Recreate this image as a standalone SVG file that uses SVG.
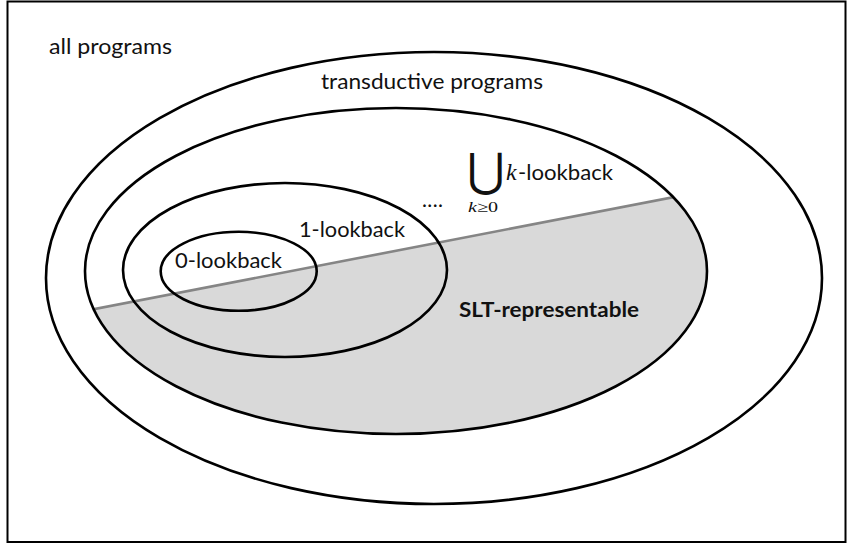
<svg xmlns="http://www.w3.org/2000/svg" width="853" height="547" viewBox="0 0 853 547">
<style>
.ring{fill:none;stroke:#000;stroke-width:2.6}
.lbl{font-family:Lato,"Open Sans","Liberation Sans",sans-serif;font-size:21px;fill:#111}
.math{font-family:"Liberation Serif","DejaVu Serif",serif;fill:#111}
</style>
<defs>
<clipPath id="midclip"><ellipse cx="396" cy="271" rx="311" ry="163"/></clipPath>
</defs>
<rect x="7.5" y="1.5" width="838" height="540.5" fill="#fff" stroke="#000" stroke-width="2"/>
<g id="all-programs">
<text class="lbl" x="49" y="54" textLength="123" lengthAdjust="spacingAndGlyphs">all programs</text>
</g>
<g id="transductive">
<ellipse class="ring" cx="434" cy="278" rx="388" ry="226"/>
<text class="lbl" x="321" y="89" textLength="222" lengthAdjust="spacingAndGlyphs">transductive programs</text>
</g>
<g id="slt-representable">
<g clip-path="url(#midclip)">
<polygon points="80,311.9 720,188.1 720,440 80,440" fill="#d9d9d9"/>
<line x1="80" y1="311.9" x2="720" y2="188.1" stroke="#858585" stroke-width="2.6"/>
</g>
<text class="lbl" x="459" y="317" font-weight="bold" textLength="180" lengthAdjust="spacingAndGlyphs">SLT-representable</text>
</g>
<g id="union-k-lookback">
<ellipse class="ring" cx="396" cy="271" rx="311" ry="163"/>
<text class="math" x="467" y="186" font-size="46">⋃</text>
<text class="math" x="506" y="180" font-size="24" font-style="italic">k</text>
<text class="lbl" x="518" y="180" font-size="23" textLength="95" lengthAdjust="spacingAndGlyphs">-lookback</text>
<text class="math" x="468" y="211.5" font-size="15" textLength="30" lengthAdjust="spacingAndGlyphs"><tspan font-style="italic">k</tspan>≥0</text>
<text class="lbl" x="422" y="207" font-size="20" textLength="21" lengthAdjust="spacing">....</text>
</g>
<g id="one-lookback">
<ellipse class="ring" cx="285" cy="270" rx="162" ry="87"/>
<text class="lbl" x="299" y="237" textLength="106" lengthAdjust="spacingAndGlyphs">1-lookback</text>
</g>
<g id="zero-lookback">
<ellipse class="ring" cx="238.7" cy="271.3" rx="78" ry="39.5"/>
<text class="lbl" x="175" y="268" textLength="107" lengthAdjust="spacingAndGlyphs">0-lookback</text>
</g>
<g id="connectors"/>
</svg>
